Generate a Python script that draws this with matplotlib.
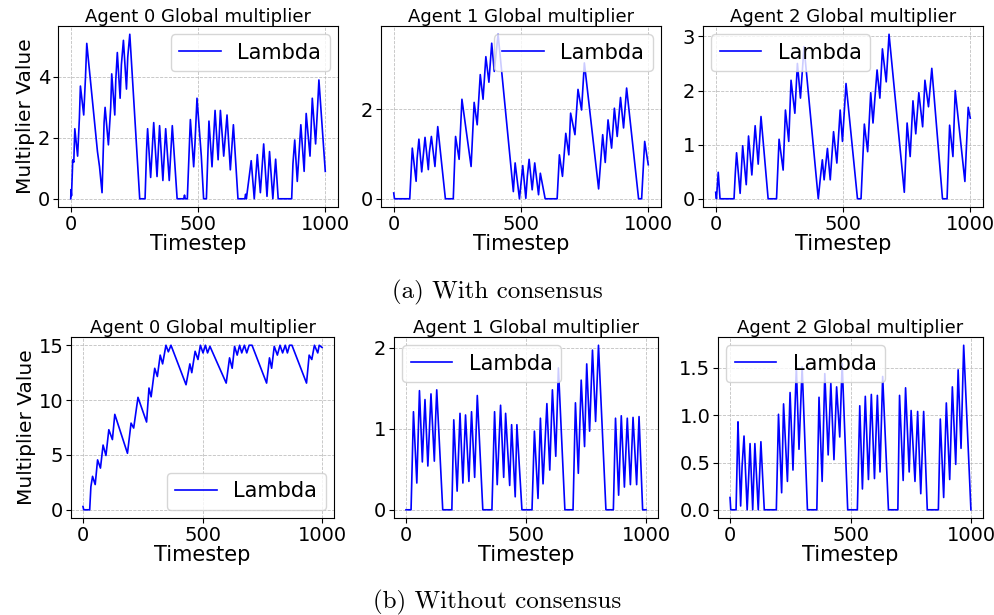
import matplotlib
matplotlib.use("Agg")
import matplotlib.pyplot as plt

# ============================
# DATA
# ============================

# (a) With consensus
a0_t = [0, 1, 3, 8, 12, 16, 27, 34, 38, 51, 58, 63, 105, 113, 123, 131, 135, 148, 157, 161,
        173, 177, 183, 194, 199, 207, 219, 224, 232, 271, 292, 298, 302, 314, 326, 339, 349, 362, 373, 387,
        399, 418, 444, 447, 450, 458, 470, 483, 488, 496, 513, 522, 533, 543, 555, 567, 579, 588, 601, 614,
        627, 639, 657, 684, 687, 690, 703, 709, 721, 733, 745, 758, 771, 781, 794, 805, 815, 868, 873, 880,
        890, 904, 917, 925, 940, 949, 962, 970, 975, 1000]
a0_lam = [0.0, 0.3, 0.1, 1.28, 1.2, 2.3, 1.4, 2.65, 3.7, 2.75, 4.0, 5.1, 1.55, 1.06, 0.2, 2.5, 3.0, 1.77, 3.0, 4.1,
          2.75, 3.9, 4.8, 3.3, 4.4, 5.2, 3.6, 4.65, 5.4, 0.0, 0.0, 1.6, 2.3, 0.7, 2.5, 0.73, 2.4, 0.6, 2.3, 0.6,
          2.4, 0.0, 0.0, 0.12, 0.0, 0.0, 2.6, 1.05, 1.8, 3.3, 1.4, 0.0, 0.0, 2.55, 1.05, 2.9, 1.28, 2.9, 1.4, 2.75,
          0.95, 2.43, 0.0, 0.0, 0.15, 0.0, 0.85, 1.25, 0.0, 1.45, 0.2, 1.8, 0.08, 1.55, 0.0, 1.3, 0.0, 0.0, 1.15, 1.93,
          0.57, 2.43, 0.9, 2.8, 1.4, 3.3, 1.8, 3.05, 3.9, 0.9]

a1_t = [0, 3, 63, 73, 88, 92, 99, 110, 123, 136, 140, 148, 162, 173, 203, 234, 243, 257, 268, 304,
        316, 328, 340, 351, 362, 374, 385, 395, 410, 470, 477, 494, 507, 519, 525, 532, 544, 554, 569, 576,
        595, 642, 651, 663, 676, 688, 695, 712, 724, 738, 749, 805, 821, 831, 842, 856, 867, 878, 891, 903,
        915, 962, 974, 986, 1000]
a1_lam = [0.13, 0.0, 0.0, 1.13, 0.39, 0.9, 1.33, 0.6, 1.37, 0.65, 1.03, 1.39, 0.72, 1.61, 0.0, 0.0, 1.39, 0.88, 2.22, 0.72,
          2.15, 1.65, 2.77, 2.22, 3.17, 2.6, 3.47, 2.84, 3.67, 0.16, 0.8, 0.0, 0.74, 0.01, 0.5, 0.88, 0.2, 0.8, 0.09, 0.57,
          0.0, 0.0, 0.98, 0.5, 1.46, 0.98, 1.91, 1.43, 2.44, 1.98, 3.03, 0.22, 1.43, 0.81, 1.76, 1.13, 2.02, 1.39, 2.26, 1.58,
          2.47, 0.0, 0.0, 1.28, 0.76]

a2_t = [0, 3, 10, 17, 72, 77, 82, 96, 106, 120, 129, 142, 155, 167, 178, 206, 239, 249, 265, 274,
        287, 296, 311, 321, 333, 347, 403, 411, 419, 426, 439, 450, 463, 476, 489, 498, 512, 557, 571, 584,
        597, 609, 618, 634, 645, 655, 670, 681, 741, 752, 764, 775, 786, 798, 813, 822, 836, 849, 891, 909,
        919, 932, 941, 979, 992, 1000]
a2_lam = [0.12, 0.0, 0.49, 0.0, 0.0, 0.47, 0.85, 0.1, 0.98, 0.26, 1.16, 0.44, 1.35, 0.64, 1.52, 0.0, 0.0, 1.1, 0.53, 1.64,
          1.06, 2.19, 1.58, 2.5, 1.86, 2.81, 0.0, 0.38, 0.72, 0.35, 0.93, 0.35, 1.24, 0.66, 1.64, 1.06, 2.13, 0.0, 0.0, 1.38,
          0.87, 1.96, 1.4, 2.38, 1.86, 2.77, 2.16, 3.04, 0.12, 1.4, 0.78, 1.81, 1.2, 1.96, 1.33, 2.19, 1.7, 2.41, 0.0, 0.0,
          1.36, 0.78, 2.0, 0.32, 1.69, 1.49]

# (b) Without consensus
b0_t = [0, 3, 28, 33, 40, 51, 61, 73, 84, 96, 108, 123, 133, 186, 201, 212, 230, 266, 276, 285,
        300, 311, 323, 333, 347, 357, 368, 431, 447, 455, 469, 481, 491, 502, 512, 521, 531, 599, 613, 624,
        634, 645, 655, 664, 675, 685, 695, 707, 768, 780, 789, 800, 813, 824, 835, 846, 855, 864, 874, 935,
        946, 957, 968, 982, 988, 1000]
b0_lam = [0.3, 0.0, 0.0, 2.1, 3.05, 2.3, 4.55, 3.8, 5.9, 4.95, 7.3, 6.4, 8.7, 5.15, 7.9, 7.45, 10.25, 8.0, 11.1, 10.3,
          12.9, 12.15, 14.1, 13.3, 15.0, 14.4, 15.0, 11.4, 13.3, 12.5, 14.45, 13.7, 15.0, 14.3, 15.0, 14.3, 14.9, 11.55, 13.85, 12.9,
          14.9, 14.1, 15.0, 14.3, 15.0, 14.3, 15.0, 15.0, 11.55, 13.85, 12.9, 14.9, 14.1, 15.0, 14.3, 15.0, 14.3, 15.0, 15.0, 11.55,
          14.1, 13.7, 15.0, 14.3, 15.0, 14.8]

b1_t = [0, 21, 31, 45, 56, 68, 74, 79, 91, 104, 118, 123, 128, 153, 191, 199, 213, 225, 237, 248,
        262, 273, 286, 297, 320, 358, 369, 380, 394, 407, 415, 432, 440, 455, 462, 483, 525, 535, 550, 560,
        571, 587, 599, 610, 624, 635, 662, 696, 706, 718, 730, 744, 753, 765, 777, 790, 802, 833, 864, 873,
        886, 897, 910, 922, 935, 946, 961, 971, 986, 1000]
b1_lam = [0.0, 0.0, 1.21, 0.33, 1.47, 0.59, 1.03, 1.36, 0.54, 1.43, 0.6, 1.1, 1.48, 0.0, 0.0, 1.11, 0.23, 1.19, 0.33, 1.17,
          0.35, 1.21, 0.4, 1.41, 0.0, 0.0, 1.21, 0.31, 1.29, 0.4, 1.19, 0.3, 1.05, 0.16, 1.05, 0.0, 0.0, 0.97, 0.14, 1.13,
          0.32, 1.31, 0.49, 1.48, 0.66, 1.75, 0.0, 0.0, 1.32, 0.45, 1.6, 0.78, 1.8, 0.97, 1.97, 1.09, 2.03, 0.0, 0.0, 1.13,
          0.18, 1.16, 0.28, 1.13, 0.31, 1.14, 0.31, 1.15, 0.0, 0.0]

b2_t = [0, 3, 25, 31, 33, 44, 50, 58, 71, 78, 83, 94, 103, 117, 128, 142, 192, 201, 214, 222,
        238, 249, 261, 275, 286, 299, 321, 360, 369, 382, 393, 407, 418, 431, 442, 455, 465, 488, 528, 538,
        549, 561, 574, 586, 599, 611, 622, 633, 657, 696, 703, 718, 728, 743, 751, 767, 778, 791, 803, 818,
        864, 872, 886, 897, 911, 922, 936, 946, 958, 969, 999]
b2_lam = [0.13, 0.0, 0.0, 0.7, 0.93, 0.04, 0.46, 0.78, 0.0, 0.39, 0.7, 0.0, 0.7, 0.0, 0.72, 0.0, 0.0, 1.01, 0.18, 1.12,
          0.3, 1.24, 0.42, 1.51, 0.64, 1.51, 0.0, 0.0, 1.19, 0.3, 1.44, 0.58, 1.34, 0.53, 1.3, 0.77, 1.55, 0.0, 0.0, 1.1,
          0.22, 1.2, 0.32, 1.22, 0.33, 1.21, 0.4, 1.41, 0.0, 0.0, 1.21, 0.31, 1.29, 0.4, 1.05, 0.3, 1.04, 0.17, 1.04, 0.0,
          0.0, 0.96, 0.13, 1.13, 0.32, 1.3, 0.48, 1.48, 0.65, 1.74, 0.0]

captions = ["(a) With consensus", "(b) Without consensus"]

# ============================
# PLOT
# ============================

fig = plt.figure(figsize=(9.95, 6.15), dpi=100)

# (series, agent, axes rect, legend loc, show ylabel)
panels = [
    (a0_t, a0_lam, 0, [0.0583, 0.6634, 0.2814, 0.2943], "upper right", True),
    (a1_t, a1_lam, 1, [0.3829, 0.6634, 0.2814, 0.2943], "upper right", False),
    (a2_t, a2_lam, 2, [0.7065, 0.6634, 0.2814, 0.2943], "upper left", False),
    (b0_t, b0_lam, 0, [0.0714, 0.1577, 0.2643, 0.2943], "lower right", True),
    (b1_t, b1_lam, 1, [0.3960, 0.1577, 0.2653, 0.2943], "upper left", False),
    (b2_t, b2_lam, 2, [0.7216, 0.1577, 0.2663, 0.2943], "upper left", False),
]

for t, lam, agent, rect, loc, ylab in panels:
    ax = fig.add_axes(rect)
    ax.plot(t, lam, color="blue", lw=1.2, label="Lambda")
    ax.set_title(f"Agent {agent} Global multiplier", fontsize=13, pad=3)
    ax.set_xlabel("Timestep", fontsize=15, labelpad=0)
    if ylab:
        ax.set_ylabel("Multiplier Value", fontsize=14.5, labelpad=2)
    ax.set_xticks([0, 500, 1000])
    ax.tick_params(labelsize=14, pad=2)
    ax.grid(True, ls="--", lw=0.6, color="#b0b0b0", alpha=0.8)
    ax.legend(loc=loc, fontsize=15, borderaxespad=0.4)

fig.text(0.5, 1 - 292 / 615, captions[0], family="cmr10", fontsize=18, ha="center", va="center")
fig.text(0.5, 1 - 602 / 615, captions[1], family="cmr10", fontsize=18, ha="center", va="center")

fig.savefig("out.png", dpi=100)
